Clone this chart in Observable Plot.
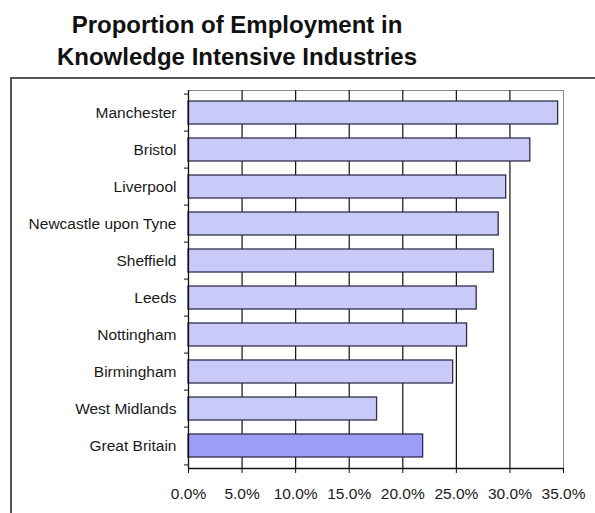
<!DOCTYPE html>
<html>
<head>
<meta charset="utf-8">
<script src="https://cdn.jsdelivr.net/npm/d3@7"></script>
<script src="https://cdn.jsdelivr.net/npm/@observablehq/plot@0.6"></script>
<style>
  html, body { margin: 0; padding: 0; background: #fff; }
  body { width: 595px; height: 513px; position: relative; overflow: hidden; font-family: "Liberation Sans", Arial, sans-serif; }
  #title { position: absolute; left: 0; top: 9px; width: 474px; text-align: center; font-weight: bold; font-size: 24px; line-height: 32px; color: #111; }
  #box { position: absolute; left: 10px; top: 77px; width: 585px; height: 436px; border-left: 2px solid #555; border-top: 2px solid #555; }
  #box svg { display: block; }
</style>
</head>
<body>
<div id="title">Proportion of Employment in<br>Knowledge Intensive Industries</div>
<div id="box"></div>
<script>
const categories = ["Manchester", "Bristol", "Liverpool", "Newcastle upon Tyne", "Sheffield", "Leeds", "Nottingham", "Birmingham", "West Midlands", "Great Britain"];
const values = [0.345, 0.319, 0.2965, 0.2895, 0.285, 0.269, 0.260, 0.247, 0.176, 0.219];
const xTicks = [0, 0.05, 0.10, 0.15, 0.20, 0.25, 0.30, 0.35];
const benchmark = "Great Britain";

const data = categories.map((c, i) => ({name: c, value: values[i]}));

const W = 583, H = 434;
const mTop = 11, mBottom = 45, mLeft = 176, mRight = 32;
const step = (H - mTop - mBottom) / categories.length;

const chart = Plot.plot({
  width: W,
  height: H,
  marginTop: mTop,
  marginBottom: mBottom,
  marginLeft: mLeft,
  marginRight: mRight,
  style: {fontFamily: "'Liberation Sans', Arial, sans-serif", fontSize: "15.5px", color: "#1a1a1a", background: "#fff"},
  x: {domain: [0, 0.35], ticks: xTicks, tickFormat: d3.format(".1%"), label: null},
  y: {domain: categories, padding: 0, label: null},
  marks: [
    Plot.frame({stroke: "#8a8a8a"}),
    Plot.ruleX(xTicks.filter(d => d > 0 && d < 0.35), {stroke: "#111", strokeWidth: 1.2}),
    Plot.barX(data, {
      x: "value", y: "name",
      fill: d => d.name === benchmark ? "#9d9cf6" : "#cacaf9",
      stroke: "#2e2e4a", strokeWidth: 1.3,
      insetTop: 7, insetBottom: 7
    }),
    Plot.ruleX([0], {stroke: "#111", strokeWidth: 1.3}),
    Plot.frame({anchor: "bottom", stroke: "#111", strokeWidth: 1.3}),
    Plot.axisX({ticks: xTicks, tickFormat: d3.format(".1%"), tickSize: 5, tickPadding: 14, stroke: "#111", fill: "#1a1a1a", fontSize: 15.5}),
    Plot.axisY({tickSize: 0, tickPadding: 12, fill: "#1a1a1a", fontSize: 15.5}),
    Plot.axisY({tickSize: 4, dy: -step / 2, tickFormat: () => "", stroke: "#111"}),
    Plot.axisY([benchmark], {tickSize: 4, dy: step / 2, tickFormat: () => "", stroke: "#111"})
  ]
});
document.getElementById("box").appendChild(chart);
</script>
</body>
</html>
